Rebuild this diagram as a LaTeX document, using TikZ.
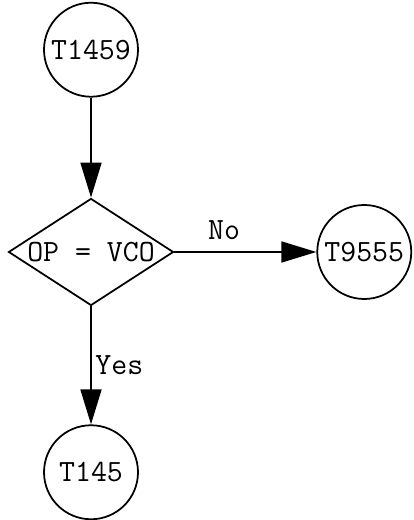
\documentclass[tikz,border=0pt]{standalone}
\usetikzlibrary{arrows.meta, positioning, shapes.geometric}
\tikzset{
	term/.style={circle, draw=black, line width=1pt, inner sep=0pt, minimum size=1.88cm, font=\fontsize{17.6}{20}\selectfont\ttfamily},
	test/.style={diamond, draw=black, line width=1pt, inner sep=0pt, aspect=1.54, minimum width=3.3cm, minimum height=2.14cm, font=\fontsize{17.6}{20}\selectfont\ttfamily},
	lbl/.style={font=\fontsize{17.6}{20}\selectfont\ttfamily, inner sep=2pt},
	arrow/.style={-{Triangle[length=0.7cm, width=0.42cm]}, line width=1pt, draw=black},
}
\begin{document}
\begin{tikzpicture}
		\useasboundingbox (0,0) rectangle (8.26,10.4);
		\node[test] (vco) at (1.82,5.36) {OP = VCO};
		\node[term, above=2cm of vco] (start) {T1459};
		\node[term, right=2.84cm of vco] (no) {T9555};
		\node[term, below=2.36cm of vco] (yes) {T145};
		\draw[arrow] (start) -- (vco);
		\draw[arrow] (vco) -- node[lbl, above=0.15cm, pos=0.35] (nolbl) {No} (no);
		\draw[arrow] (vco) -- node[lbl, right, pos=0.5] (yeslbl) {Yes} (yes);
	\end{tikzpicture}
\end{document}
